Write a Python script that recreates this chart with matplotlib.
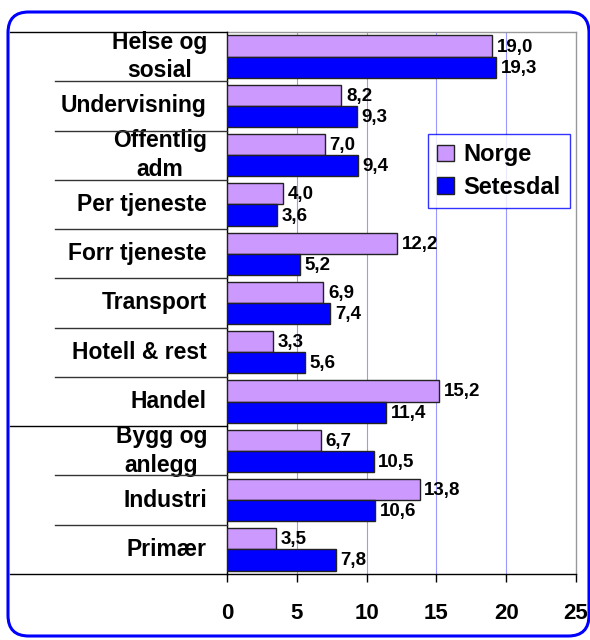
import matplotlib
matplotlib.use("Agg")
import matplotlib.pyplot as plt
import numpy as np
from matplotlib.patches import FancyBboxPatch
from matplotlib.transforms import blended_transform_factory

plt.rcParams['font.family'] = ['Liberation Sans', 'DejaVu Sans']

categories = ["Helse og\nsosial", "Undervisning", "Offentlig\nadm", "Per tjeneste",
              "Forr tjeneste", "Transport", "Hotell & rest", "Handel",
              "Bygg og\nanlegg", "Industri", "Primær"]
norge = [19.0, 8.2, 7.0, 4.0, 12.2, 6.9, 3.3, 15.2, 6.7, 13.8, 3.5]
setesdal = [19.3, 9.3, 9.4, 3.6, 5.2, 7.4, 5.6, 11.4, 10.5, 10.6, 7.8]
series_names = ["Norge", "Setesdal"]
xticks = [0, 5, 10, 15, 20, 25]

c_norge = "#CC99FF"
c_setes = "#0000FF"

fig = plt.figure(figsize=(5.9, 6.4), dpi=100)
W, H = 590, 640
ax = fig.add_axes([227 / W, 1 - 574 / H, (576 - 227) / W, (574 - 32) / H])

n = len(categories)
y = np.arange(n)
h = 0.43
ax.barh(y - h / 2, norge, height=h, color=c_norge, edgecolor="#222222", linewidth=1.0, zorder=3, label=series_names[0])
ax.barh(y + h / 2, setesdal, height=h, color=c_setes, edgecolor="#222222", linewidth=1.0, zorder=3, label=series_names[1])

for yi, v in zip(y, norge):
    ax.text(v + 0.33, yi - h / 2 + 0.02, f"{v:.1f}".replace(".", ","), va="center", ha="left",
            fontsize=13.5, fontweight="bold", zorder=4)
for yi, v in zip(y, setesdal):
    ax.text(v + 0.33, yi + h / 2 + 0.02, f"{v:.1f}".replace(".", ","), va="center", ha="left",
            fontsize=13.5, fontweight="bold", zorder=4)

ax.set_xlim(0, 25)
ax.set_ylim(n - 0.5, -0.5)
ax.set_xticks(xticks)
ax.set_xticklabels([str(t) for t in xticks], fontsize=16, fontweight="bold")
ax.tick_params(axis="x", direction="out", length=6, width=1, pad=15, colors="black")
ax.set_yticks([])
for gx in xticks[1:-1]:
    ax.axvline(gx, color="#9999FF", linewidth=0.8, zorder=1)

ax.spines["left"].set_color("black")
ax.spines["bottom"].set_color("black")
ax.spines["top"].set_color("#999999")
ax.spines["right"].set_color("#999999")
for s in ax.spines.values():
    s.set_linewidth(1.0)

# category labels
trans = blended_transform_factory(ax.transAxes, ax.transData)
label_x = (207 - 227) / (576 - 227)
for yi, lab in zip(y, categories):
    ax.text(label_x, yi, lab, transform=trans, ha="right", va="center", multialignment="center",
            fontsize=16.5, fontweight="bold", linespacing=1.3)

# separator lines extending to the left
short_x = (55 - 227) / (576 - 227)
long_x = (10 - 227) / (576 - 227)
long_set = {-0.5, 7.5, n - 0.5}
for b in np.arange(n + 1) - 0.5:
    x0 = long_x if b in long_set else short_x
    ax.plot([x0, 0], [b, b], transform=trans, color="#333333" if b not in long_set else "black",
            linewidth=1.0, clip_on=False, zorder=5)

# legend
leg = ax.legend(loc="upper left", bbox_to_anchor=((428 - 227) / 349, 1 - (134 - 32) / 542),
                prop={"weight": "bold", "size": 17}, frameon=True, fancybox=False,
                handlelength=0.7, handleheight=0.7, handletextpad=0.4, borderpad=0.4,
                labelspacing=0.4, borderaxespad=0)
leg.get_frame().set_edgecolor("#0000FF")
leg.get_frame().set_linewidth(1.0)
for p in leg.get_patches():
    p.set_edgecolor("#222222")

# rounded outer frame
frame = FancyBboxPatch((8 / W, 4 / H), (589 - 8) / W, (628 - 4) / H,
                       boxstyle="round,pad=0,rounding_size=0.035",
                       transform=fig.transFigure, facecolor="none", edgecolor="#0000FF",
                       linewidth=2.2, mutation_aspect=W / H)
fig.patches.append(frame)

fig.savefig("out.png", dpi=100)
